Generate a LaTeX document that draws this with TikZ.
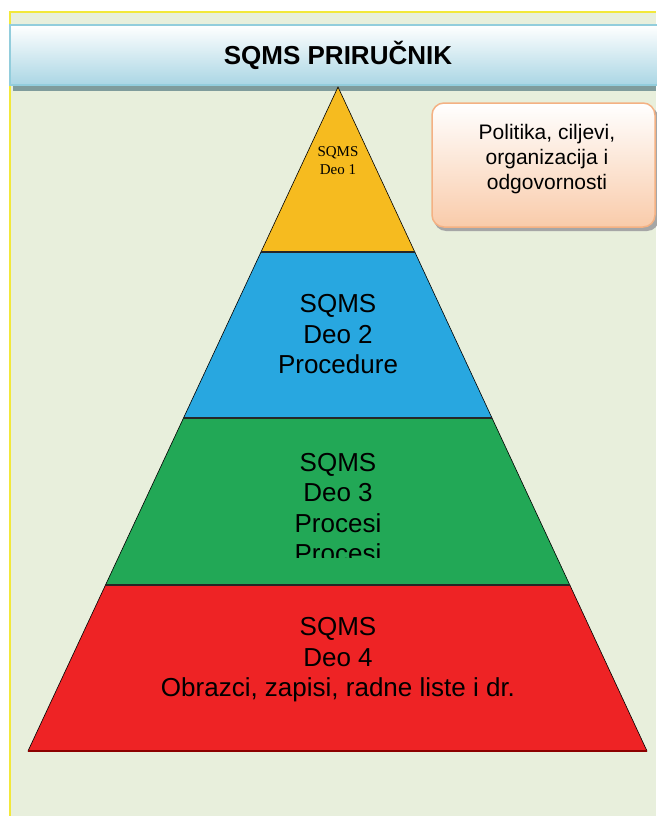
\documentclass[tikz,border=0pt]{standalone}
\usepackage{fontspec}
\setmainfont{Liberation Sans}
\newfontfamily\timesf{Liberation Serif}
\definecolor{bgc}{RGB}{232,239,220}
\definecolor{ylw}{RGB}{242,232,58}
\definecolor{banb}{RGB}{170,214,228}
\definecolor{banbd}{RGB}{146,205,220}
\definecolor{shad}{RGB}{127,156,156}
\definecolor{peach}{RGB}{249,203,170}
\definecolor{peachd}{RGB}{244,177,131}
\definecolor{pyel}{RGB}{246,187,31}
\definecolor{pblu}{RGB}{40,167,224}
\definecolor{pgrn}{RGB}{34,168,86}
\definecolor{pred}{RGB}{238,35,37}
\tikzset{
  layer/.style={draw=black, line width=0.6pt, line join=miter},
  sep/.style={draw=black!85, line width=1.3pt},
  big/.style={align=center, font=\fontsize{26}{30.5}\selectfont, inner sep=0pt},
}
\begin{document}
\begin{tikzpicture}[x=1pt,y=-1pt]
\useasboundingbox (0,0) rectangle (656,816);
\fill[white] (0,0) rectangle (656,816);
% background
\fill[bgc] (9,12) rectangle (656,816);
\draw[ylw, line width=2.2pt] (10,816) -- (10,12) -- (656,12);
% banner
\fill[shad] (13,85) rectangle (656,91);
\shade[top color=white, bottom color=banb, middle color=white!50!banb] (10,25) rectangle (660,85);
\draw[banbd, line width=2pt] (10,25) rectangle (660,85);
\node[font=\bfseries\fontsize{26}{30}\selectfont] (title) at (338,55) {SQMS PRIRUČNIK};
% pyramid
\coordinate (apex) at (338,87);
\coordinate (l1) at (261,252); \coordinate (r1) at (414.8,252);
\coordinate (l2) at (183.5,418); \coordinate (r2) at (492,418);
\coordinate (l3) at (105.5,585); \coordinate (r3) at (569.8,585);
\coordinate (l4) at (28,751); \coordinate (r4) at (647,751);
\filldraw[layer, fill=pyel] (apex) -- (r1) -- (l1) -- cycle;
\filldraw[layer, fill=pblu] (l1) -- (r1) -- (r2) -- (l2) -- cycle;
\filldraw[layer, fill=pgrn] (l2) -- (r2) -- (r3) -- (l3) -- cycle;
\filldraw[layer, fill=pred] (l3) -- (r3) -- (r4) -- (l4) -- cycle;
\draw[sep] (l1) -- (r1);
\draw[sep] (l2) -- (r2);
\draw[sep] (l3) -- (r3);
\draw[red!55!black, line width=1.2pt] (l4) -- (r4);
% texts
\node[align=center, inner sep=0pt, font=\timesf\fontsize{15}{18}\selectfont] (t1) at (338,160.5) {SQMS\\Deo 1};
\node[big] (t2) at (338,334.5) {SQMS\\Deo 2\\Procedure};
\begin{scope}
\clip (100,420) rectangle (580,557);
\node[big, anchor=north] (t3) at (338,453) {SQMS\\Deo 3\\Procesi\\Procesi};
\end{scope}
\node[big] (t4) at (338,660) {SQMS\\Deo 4\\Obrazci, zapisi, radne liste i dr.};
% side box
\fill[black!35, rounded corners=12pt] (434,107) rectangle (659,231);
\shade[rounded corners=12pt, top color=white, bottom color=peach] (432,103) rectangle (655,227);
\draw[peachd, line width=1.5pt, rounded corners=12pt] (432,103) rectangle (655,227);
\node[align=center, inner sep=0pt, font=\fontsize{21}{25}\selectfont] (box) at (547,159) {Politika, ciljevi,\\organizacija i\\odgovornosti};
\end{tikzpicture}
\end{document}
